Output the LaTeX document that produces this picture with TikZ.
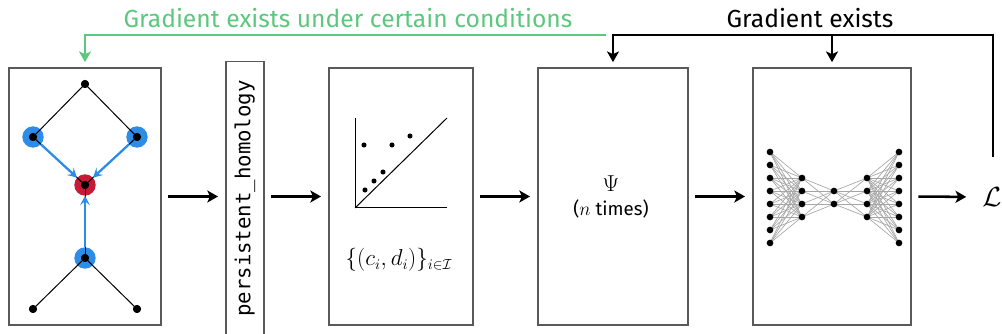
\documentclass[tikz,border=0pt]{standalone}
\usepackage{fontspec}
\setmainfont{Fira Sans}
\setmonofont{DejaVu Sans Mono}
\usepackage{tikz}
\usetikzlibrary{arrows.meta,positioning,fit,backgrounds}
\definecolor{gradgreen}{RGB}{92,200,125}
\definecolor{critblue}{RGB}{45,140,230}
\definecolor{critred}{RGB}{200,25,55}
\tikzset{
  >={Stealth[length=8pt,width=9pt,inset=2pt]},
  panel/.style={draw=black!65, line width=0.8pt, inner sep=0pt},
  flow/.style={->, line width=1.9pt, shorten <=5.2pt, shorten >=5.6pt},
  back/.style={->, line width=2pt, shorten >=4pt},
  lbl/.style={font=\fontsize{15}{18}\selectfont, inner sep=1pt},
  title/.style={font=\fontsize{18.5}{22}\selectfont, inner sep=1pt},
  dot/.style={circle, fill=black, inner sep=0pt, minimum size=6pt},
  halo/.style={circle, fill=critblue, inner sep=0pt, minimum size=16pt},
  edge/.style={line width=0.75pt},
  pull/.style={->, >={Stealth[length=7pt,width=7.5pt,inset=3pt]}, critblue, line width=1.7pt},
  pdot/.style={circle, fill=black, inner sep=0pt, minimum size=3.8pt},
  nndot/.style={circle, fill=black, inner sep=0pt, minimum size=5pt},
  nnedge/.style={draw=black!35, line width=0.5pt},
}

\begin{document}
\begin{tikzpicture}[x=0.75pt, y=-0.75pt]
  \useasboundingbox (0,0) rectangle (1002,334);
  % panels
  \node[panel, fit={(9,68) (161,325)}] (graph) {};
  \node[panel, rotate=90, font=\fontsize{15.5}{18}\ttfamily, minimum width=206pt, minimum height=28.5pt] (ph) at (245,198.5) {persistent\_homology};
  \node[panel, fit={(329,68) (473,325)}] (diag) {};
  \node[panel, fit={(538,68) (688,325)}] (psi) {};
  \node[panel, fit={(753,68) (911,325)}] (net) {};
  \node[lbl, font=\fontsize{20}{24}\selectfont, inner sep=0pt] (loss) at (992,197) {$\mathcal{L}$};
  % main flow
  \draw[flow] (graph.east) -- (graph.east -| ph.north);
  \draw[flow] (graph.east -| ph.south) -- (graph.east -| diag.west);
  \draw[flow] (graph.east -| diag.east) -- (graph.east -| psi.west);
  \draw[flow] (graph.east -| psi.east) -- (graph.east -| net.west);
  \draw[flow, shorten >=12pt] (graph.east -| net.east) -- (loss.west);
  % gradients
  \coordinate (lup) at (993,157);
  \coordinate (bus) at (993,35);
  \coordinate (gsplit) at (606,35);
  \draw[back, gradgreen] (gsplit) -| (graph.north);
  \draw[back] (lup) -- (bus) -| (psi.north);
  \draw[back] (net.north |- bus) -- (net.north);
  \node[title, text=gradgreen] (gc) at (348,18) {Gradient exists under certain conditions};
  \node[title] (ge) at (810,18) {Gradient exists};
  % graph with critical simplices
  \node[halo] (hl) at (33,137) {};
  \node[halo] (hr) at (137,137) {};
  \node[halo] (hb) at (85,258) {};
  \node[halo, fill=critred] (hc) at (85,185) {};
  \node[dot] (vt) at (85,84) {};
  \node[dot] (vl) at (33,137) {};
  \node[dot] (vr) at (137,137) {};
  \node[dot] (vc) at (85,185) {};
  \node[dot] (vb) at (85,258) {};
  \node[dot] (vbl) at (33,309) {};
  \node[dot] (vbr) at (137,309) {};
  \foreach \a/\b in {vt/vl, vt/vr, vl/vc, vr/vc, vb/vc, vb/vbl, vb/vbr}
    \draw[edge] (\a.center) -- (\b.center);
  \draw[pull] (hl) -- (hc);
  \draw[pull] (hr) -- (hc);
  \draw[pull] (hb) -- (hc);
  \foreach \v in {vt,vl,vr,vc,vb,vbl,vbr} \node[dot] at (\v) {};
  % persistence diagram
  \coordinate (o) at (355,208);
  \draw[edge] (355,118) -- (o) -- (447,208);
  \draw[edge] (o) -- (447,118);
  \foreach \px/\py in {364/145, 392/145, 410/136, 365/190, 374/181, 383/172}
    \node[pdot] at (\px,\py) {};
  \node[lbl, font=\fontsize{16}{19}\selectfont] (pairs) at (399,260) {$\{(c_i,d_i)\}_{i\in\mathcal{I}}$};
  % vectorisation
  \node[lbl, font=\fontsize{14}{17}\selectfont, align=center] (psitext) at (611,197) {{\fontsize{16}{19}\selectfont$\Psi$}\\[1pt]($n$ times)};
  % network
  \foreach \lx/\n [count=\l] in {770/8, 802/4, 834/2, 867/4, 899/8}
    \foreach \k in {1,...,\n}
      \node[nndot] (n\l-\k) at (\lx, {197.5+(\k-(\n+1)/2)*13}) {};
  \begin{scope}[on background layer]
    \foreach \a/\na/\b/\nb in {1/8/2/4, 2/4/3/2, 3/2/4/4, 4/4/5/8}
      \foreach \i in {1,...,\na}
        \foreach \j in {1,...,\nb}
          \draw[nnedge] (n\a-\i.center) -- (n\b-\j.center);
  \end{scope}
\end{tikzpicture}
\end{document}
